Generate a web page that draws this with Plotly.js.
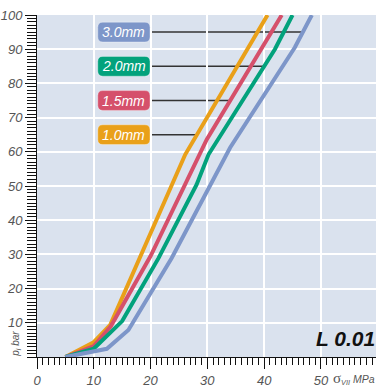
<!DOCTYPE html>
<html>
<head>
<meta charset="utf-8">
<script src="https://cdn.plot.ly/plotly-3.0.1.min.js"></script>
<style>html,body{margin:0;padding:0;background:#fff;}#chart{width:378px;height:387px;}</style>
</head>
<body>
<div id="chart"></div>
<script>
// Data (stress sigma_VII in MPa vs pressure p_i in bar)
const seriesNames = ["1.0mm", "1.5mm", "2.0mm", "3.0mm"];
const x10 = [5, 9.9, 12.9, 26.1, 40.6];
const y10 = [0, 4.2, 9.4, 59.2, 100];
const x15 = [5, 10, 13, 20, 29.9, 43.1];
const y15 = [0, 3.2, 9, 29.5, 63.6, 100];
const x20 = [5, 10, 15, 21.4, 28.1, 30.2, 41.9, 45];
const y20 = [0, 2.4, 10.5, 28.9, 50.4, 59.2, 90, 100];
const x30 = [5, 12.3, 16.1, 23.7, 34, 45.4, 48.4];
const y30 = [0, 2.4, 7.9, 28.9, 61.2, 90.5, 100];
const labelY = [65, 75, 85, 95];
const xTickVals = [0, 10, 20, 30, 40, 50];
const yTickVals = [10, 20, 30, 40, 50, 60, 70, 80, 90, 100];

const colors = ["#e9a019", "#d5506b", "#02a27c", "#7d96c9"];
const xs = [x10, x15, x20, x30];
const ys = [y10, y15, y20, y30];

function interpX(xa, ya, yv) {
  for (let i = 1; i < ya.length; i++) {
    if (yv <= ya[i]) {
      const t = (yv - ya[i-1]) / (ya[i] - ya[i-1]);
      return xa[i-1] + t * (xa[i] - xa[i-1]);
    }
  }
  return xa[xa.length-1];
}

const traces = [];
for (let k = 0; k < 4; k++) {
  traces.push({x: xs[k], y: ys[k], mode: 'lines', type: 'scatter', name: seriesNames[k],
    line: {color: colors[k], width: 4, shape: 'linear'}, hoverinfo: 'skip'});
}

// label boxes
const bx0 = 10.7, bx1 = 19.9, bh = 2.9, rx = 0.9, ry = 1.5;
function rrect(x0, x1, y0, y1) {
  return `M ${x0+rx},${y0} L ${x1-rx},${y0} Q ${x1},${y0} ${x1},${y0+ry} L ${x1},${y1-ry} Q ${x1},${y1} ${x1-rx},${y1} L ${x0+rx},${y1} Q ${x0},${y1} ${x0},${y1-ry} L ${x0},${y0+ry} Q ${x0},${y0} ${x0+rx},${y0} Z`;
}
const shapes = [];
const annotations = [];
for (let k = 0; k < 4; k++) {
  const yv = labelY[k];
  const xe = interpX(xs[k], ys[k], yv);
  shapes.push({type: 'line', xref: 'x', yref: 'y', x0: bx1, x1: xe, y0: yv, y1: yv,
    line: {color: '#333', width: 1.5}, layer: 'below'});
  shapes.push({type: 'path', xref: 'x', yref: 'y', path: rrect(bx0, bx1, yv - bh, yv + bh),
    fillcolor: colors[k], line: {color: 'rgba(255,255,255,0.35)', width: 1}, layer: 'above'});
  annotations.push({x: (bx0 + bx1) / 2, y: yv, xref: 'x', yref: 'y', text: seriesNames[k],
    showarrow: false, font: {family: 'Liberation Sans, Arial, sans-serif', size: 14, color: '#fff', style: 'italic'}});
}
annotations.push({xref: 'paper', yref: 'paper', x: 0.91, y: 0.055, xanchor: 'center', yanchor: 'middle',
  text: '<b>L 0.01</b>', showarrow: false,
  font: {family: 'Liberation Sans, Arial, sans-serif', size: 21, color: '#111', style: 'italic'}});
annotations.push({xref: 'paper', yref: 'paper', x: 1.003, y: -0.062, xanchor: 'right', yanchor: 'middle',
  text: '<span style="font-family:Liberation Serif,serif;font-size:15px;font-style:normal">σ</span><sub>VII</sub> MPa',
  showarrow: false, font: {family: 'Liberation Sans, Arial, sans-serif', size: 10.5, color: '#555', style: 'italic'}});
annotations.push({xref: 'paper', yref: 'paper', x: -0.062, y: -0.005, xanchor: 'center', yanchor: 'bottom', textangle: -90,
  text: 'p<sub>i</sub> bar', showarrow: false,
  font: {family: 'Liberation Sans, Arial, sans-serif', size: 10, color: '#555', style: 'italic'}});

const tickFont = {family: 'Liberation Sans, Arial, sans-serif', size: 13, color: '#555', style: 'italic'};
const layout = {
  width: 378, height: 387,
  margin: {l: 37, r: 2, t: 15, b: 30},
  paper_bgcolor: '#ffffff', plot_bgcolor: '#dae2ee',
  showlegend: false,
  xaxis: {range: [0, 59.7], tickvals: xTickVals, ticks: 'outside', ticklen: 11, tickwidth: 1, tickcolor: '#111',
    showline: true, linecolor: '#111', linewidth: 1, showgrid: true, gridcolor: '#ffffff', gridwidth: 2,
    zeroline: false, tickfont: tickFont,
    minor: {dtick: 1, tick0: 0, ticks: 'outside', ticklen: 7, tickcolor: '#111', tickwidth: 1, showgrid: false}},
  yaxis: {range: [0, 100], tickvals: yTickVals, ticks: 'outside', ticklen: 11, tickwidth: 1, tickcolor: '#111',
    showline: true, linecolor: '#111', linewidth: 1, showgrid: true, gridcolor: '#ffffff', gridwidth: 2,
    zeroline: false, tickfont: tickFont,
    minor: {dtick: 1, tick0: 0, ticks: 'outside', ticklen: 9, tickcolor: '#111', tickwidth: 1, showgrid: false}},
  shapes: shapes,
  annotations: annotations
};
Plotly.newPlot('chart', traces, layout, {staticPlot: true, displayModeBar: false});
</script>
</body>
</html>
